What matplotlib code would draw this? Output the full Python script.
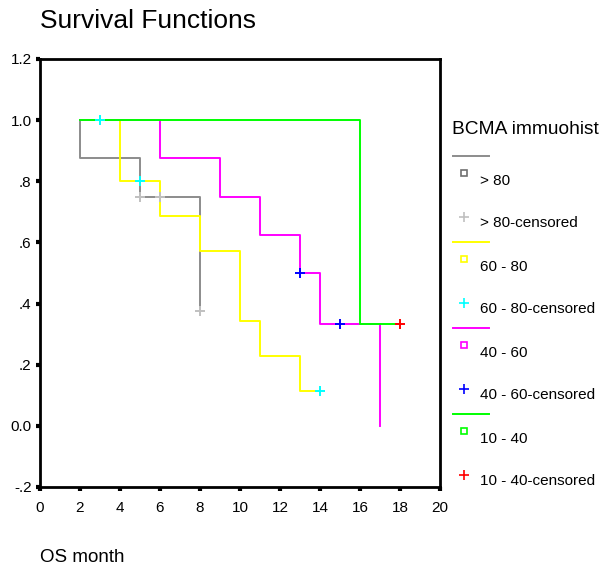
import matplotlib
matplotlib.use("Agg")
import matplotlib.pyplot as plt

plt.rcParams['font.family'] = ['Liberation Sans', 'DejaVu Sans']

# Kaplan-Meier step data per BCMA immunohistochemistry group
groups = ["> 80", "60 - 80", "40 - 60", "10 - 40"]
line_colors = ["#8c8c8c", "#ffff00", "#ff00ff", "#00ff00"]
cens_colors = ["#c0c0c0", "#00ffff", "#0000ff", "#ff0000"]

gray_t = [2, 2, 5, 8]
gray_s = [1.0, 0.875, 0.75, 0.375]
gray_ct = [5, 6, 8]
gray_cs = [0.75, 0.75, 0.375]

yellow_t = [2, 4, 6, 8, 10, 11, 13, 14]
yellow_s = [1.0, 0.8, 0.686, 0.571, 0.343, 0.229, 0.114, 0.114]
yellow_ct = [3, 5, 14]
yellow_cs = [1.0, 0.8, 0.114]

magenta_t = [2, 6, 9, 11, 13, 14, 17]
magenta_s = [1.0, 0.875, 0.75, 0.625, 0.5, 0.333, 0.0]
magenta_ct = [13, 15]
magenta_cs = [0.5, 0.333]

green_t = [2, 16, 18]
green_s = [1.0, 0.333, 0.333]
green_ct = [18]
green_cs = [0.333]

steps = [(gray_t, gray_s), (yellow_t, yellow_s), (magenta_t, magenta_s), (green_t, green_s)]
cens = [(gray_ct, gray_cs), (yellow_ct, yellow_cs), (magenta_ct, magenta_cs), (green_ct, green_cs)]

yticks = [-0.2, 0.0, 0.2, 0.4, 0.6, 0.8, 1.0, 1.2]
ytick_labels = ["-.2", "0.0", ".2", ".4", ".6", ".8", "1.0", "1.2"]
xticks = list(range(0, 21, 2))

W, H = 601, 571
fig = plt.figure(figsize=(W / 100, H / 100), dpi=100)
ax = fig.add_axes([40 / W, 1 - 487 / H, 400 / W, 428 / H])

for (t, s), c in zip(steps, line_colors):
    ax.plot(t, s, drawstyle="steps-post", color=c, lw=1.4)
for (t, s), c in zip(cens, cens_colors):
    ax.plot(t, s, ls="none", marker="+", ms=7, mew=1.4, color=c)

ax.set_xlim(0, 20)
ax.set_ylim(-0.2, 1.2)
ax.set_xticks(xticks)
ax.set_yticks(yticks)
ax.set_yticklabels(ytick_labels)
ax.tick_params(direction="out", length=3, width=3, labelsize=11)
ax.tick_params(axis="x", pad=7)
ax.tick_params(axis="y", pad=3)
for sp in ax.spines.values():
    sp.set_linewidth(2)

fig.text(40 / W, 1 - 21 / H, "Survival Functions", fontsize=19, va="center", ha="left")
fig.text(40 / W, 1 - 557 / H, "OS month", fontsize=13.5, va="center", ha="left")

# legend drawn by hand in pixel space to mimic the SPSS layout
lg = fig.add_axes([0, 0, 1, 1])
lg.set_xlim(0, W)
lg.set_ylim(H, 0)
lg.axis("off")
lg.text(452, 129, "BCMA immuohist", fontsize=13.8, va="center", ha="left")
for i, (g, lc, cc) in enumerate(zip(groups, line_colors, cens_colors)):
    y0 = 156 + 86 * i
    lg.plot([453, 489], [y0, y0], color=lc, lw=1.4)
    sq = "#707070" if i == 0 else lc
    lg.plot([464], [y0 + 17], marker="s", ms=4.5, mfc="none", mec=sq, mew=1.2)
    lg.text(480, y0 + 25, g, fontsize=11, va="center", ha="left")
    lg.plot([464], [y0 + 61], marker="+", ms=7, mew=1.2, color=cc)
    lg.text(480, y0 + 67, g + "-censored", fontsize=11, va="center", ha="left")

fig.savefig("out.png", dpi=100)
